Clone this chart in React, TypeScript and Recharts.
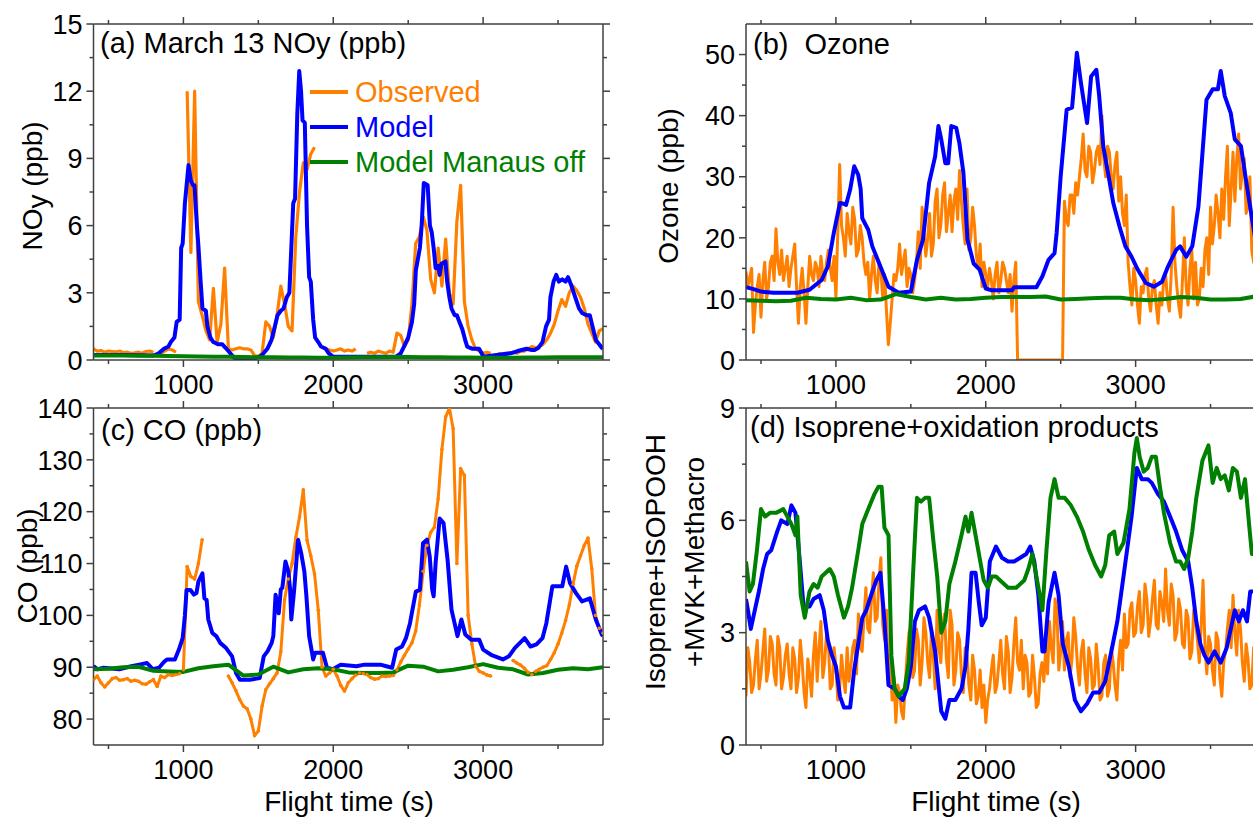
import React from 'react';
import { LineChart, Line, XAxis, YAxis, Legend } from 'recharts';

const ORANGE = '#ff8000';
const BLUE = '#0000ff';
const GREEN = '#008000';
const FRAME = '#404040';
const FONT = '"Liberation Sans", Arial, Helvetica, sans-serif';

// ---------- shared x axis ----------
const X_DOMAIN: [number, number] = [400, 3800];
const X_TICKS = [500, 1000, 1500, 2000, 2500, 3000, 3500];
const X_MAJOR = [1000, 2000, 3000];

// ---------- panel (a) NOy ----------
const NOY_DOMAIN: [number, number] = [0, 15];
const NOY_TICKS = [0, 1.5, 3, 4.5, 6, 7.5, 9, 10.5, 12, 13.5, 15];
const NOY_MAJOR = [0, 3, 6, 9, 12, 15];
// observed, every 25 s from 400 s
const NOY_OBS: (number | null)[] = [
  0.5, 0.4, 0.42, 0.35, 0.4, 0.38, 0.36, 0.4, // 400
  0.33, 0.35, 0.3, 0.32, 0.35, 0.3, 0.38, 0.4, // 600
  0.35, null, 0.3, 0.4, 0.5, 0.45, 0.35, null, // 800
  null, 12.0, 4.8, 12.0, 2.6, 2.0, 1.3, 0.9, // 1000
  3.2, 0.8, 1.6, 4.1, 0.5, 0.45, 0.5, 0.55, // 1200
  0.5, 0.5, 0.45, 0.2, 0.15, 0.3, 1.7, 1.5, // 1400
  1.0, 2.0, 3.3, 2.5, 1.5, 1.3, 5.5, 7.5, // 1600
  8.8, 8.5, 9.2, 9.5, null, 0.6, 0.5, 0.45, // 1800
  0.4, 0.45, 0.5, 0.4, 0.45, 0.4, 0.5, null, // 2000
  null, 0.3, 0.35, 0.3, 0.4, 0.35, 0.3, 0.4, // 2200
  0.35, 1.2, 1.1, 0.6, 0.9, 2.5, 5.2, 5.5, // 2400
  6.4, 5.8, 3.6, 3.0, 5.0, 3.3, 5.4, 3.0, // 2600
  2.5, 6.2, 7.8, 2.6, 1.5, 0.9, 0.5, 0.4, // 2800
  0.3, 0.35, 0.3, null, 0.3, 0.25, 0.3, 0.3, // 3000
  0.35, 0.3, 0.4, 0.4, 0.5, 0.6, 0.55, 0.6, // 3200
  0.7, 0.9, 1.2, 1.6, 2.2, 2.7, 2.4, 3.0, // 3400
  3.3, 3.1, 2.8, 2.3, 1.6, 1.2, 0.8, 1.3, // 3600
  1.4, // 3800
];
// model: [time, value]
const NOY_MODEL: number[][] = [
  [400, 0.22], [600, 0.22], [800, 0.2], [836, 0.3], [870, 0.5], [900, 0.6], [916, 0.8], [940, 1.0],
  [955, 1.7], [975, 1.8], [985, 5.0], [995, 5.2], [1010, 7.0], [1034, 8.7], [1050, 8.0], [1065, 7.8],
  [1074, 7.8], [1090, 6.0], [1100, 5.1], [1115, 3.5], [1127, 2.3], [1150, 2.2], [1160, 1.5], [1180, 1.0],
  [1200, 0.8], [1230, 0.7], [1260, 0.7], [1300, 0.4], [1338, 0.1], [1380, 0.05], [1470, 0.05], [1522, 0.2],
  [1560, 0.5], [1588, 0.9], [1610, 1.5], [1628, 2.0], [1650, 2.2], [1668, 2.3], [1690, 2.8], [1707, 3.0],
  [1720, 5.0], [1733, 7.0], [1745, 7.2], [1760, 11.0], [1773, 12.9], [1785, 12.0], [1795, 10.7], [1810, 10.6],
  [1825, 6.0], [1839, 3.7], [1850, 3.5], [1866, 1.8], [1879, 1.0], [1900, 0.8], [1918, 0.6], [1950, 0.5],
  [1970, 0.3], [1997, 0.15], [2420, 0.15], [2450, 0.3], [2472, 0.6], [2500, 1.0], [2525, 1.7], [2540, 2.5],
  [2551, 4.0], [2578, 5.0], [2590, 6.0], [2604, 7.9], [2630, 7.8], [2645, 6.0], [2657, 5.7], [2670, 5.0],
  [2683, 4.1], [2700, 4.2], [2710, 3.8], [2722, 4.3], [2749, 4.4], [2760, 3.5], [2775, 2.8], [2789, 2.3],
  [2810, 2.0], [2825, 2.0], [2842, 1.7], [2860, 1.4], [2880, 0.9], [2894, 0.6], [2930, 0.5], [2973, 0.5],
  [2990, 0.3], [3000, 0.15], [3184, 0.3], [3230, 0.4], [3290, 0.5], [3320, 0.45], [3343, 0.45], [3370, 0.55],
  [3396, 0.8], [3420, 1.5], [3440, 1.8], [3449, 2.8], [3470, 3.5], [3488, 3.8], [3505, 3.5], [3528, 3.6],
  [3550, 3.5], [3567, 3.7], [3590, 3.3], [3620, 2.7], [3640, 2.3], [3660, 2.1], [3690, 2.0], [3712, 2.0],
  [3730, 1.5], [3752, 0.9], [3792, 0.55], [3800, 0.5],
];
// Manaus off, every 100 s from 400 s
const NOY_OFF: number[] = [
  0.2, 0.2, 0.2, 0.19, 0.19, 0.18, 0.17, 0.16, 0.15, 0.14, 0.13, 0.12, 0.12, 0.11, 0.11, 0.1, 0.1, 0.11,
  0.12, 0.12, 0.13, 0.13, 0.12, 0.12, 0.11, 0.11, 0.1, 0.1, 0.1, 0.11, 0.11, 0.12, 0.12, 0.12, 0.12,
];

// ---------- panel (b) Ozone ----------
const O3_DOMAIN: [number, number] = [0, 55];
const O3_TICKS = [0, 5, 10, 15, 20, 25, 30, 35, 40, 45, 50];
const O3_MAJOR = [0, 10, 20, 30, 40, 50];
// observed at 400, 425, ... s
const O3_OBS: number[] = [
  14.5, 13.5, 4.5, 12, 7, 16, 12, 17, // 400
  21.5, 14, 13, 17, 15, 19, 6, 15, // 600
  6, 17, 13, 15, 17, 13, 18, 13, // 800
  10, 32, 20, 24, 19, 23, 18, 20, // 1000
  14, 10, 17, 11, 15, 14, 2.5, 10, // 1200
  13, 19, 16, 12, 14, 13, 21, 25, // 1400
  17, 24, 19, 28, 22, 29, 24, 21, // 1600
  28, 31, 22, 28, 20, 22, 15, 12, // 1800
  14, 15, 10, 16, 13, 15, 11, 8, // 2000
  16, 0, 0, 0, 0, 0, 0, 0, // 2200
  0, 0, 0, 0, 0, 26, 22, 27, // 2400
  29, 30, 37, 30, 34, 31, 35, 40, // 2600
  30, 34, 28, 34, 30, 22, 16, 9, // 2800
  13, 6, 11, 15, 8, 13, 6, 9, // 3000
  14, 8, 25, 12, 7, 20, 9, 18, // 3200
  16, 10, 12, 20, 25, 22, 24, 28, // 3400
  30, 22, 34, 33, 28, 33, 25, 18, // 3600
  20, // 3800
];
// observed at 412.5, 437.5, ... s
const O3_OBS_MID: number[] = [
  12, 15, 9, 14, 13, 10, 16, 13, // 412.5
  16, 18, 15, 12, 17, 12, 12, 11, // 612.5
  12, 14, 16, 12, 14, 16, 15, 17, // 812.5
  21, 22, 17, 21, 25, 17, 22, 16, // 1012.5
  16, 14, 13, 16, 10, 8, 6, 14, // 1212.5
  15, 14, 18, 15, 11, 16, 15, 21, // 1412.5
  20, 17, 26, 20, 27, 21, 27, 26, // 1612.5
  23, 26, 19, 18, 25, 17, 19, 16, // 1812.5
  12, 13, 14, 11, 16, 13, 14, 13, // 2012.5
  0, 0, 0, 0, 0, 0, 0, 0, // 2212.5
  0, 0, 0, 0, 0, 23, 27, 24, // 2412.5
  27, 33, 31, 35, 29, 34, 32, 33, // 2612.5
  35, 30, 32, 26, 24, 27, 12, 15, // 2812.5
  9, 12, 14, 10, 12, 9, 11, 13, // 3012.5
  10, 14, 16, 9, 13, 12, 15, 10, // 3212.5
  9, 15, 18, 14, 19, 27, 20, 23, // 3412.5
  35, 28, 26, 37, 31, 24, 30, 16, // 3612.5
];
const O3_MODEL: number[][] = [
  [400, 11.9], [450, 11.6], [500, 11.2], [584, 11.0], [743, 11.0], [824, 11.5], [905, 13.1], [946, 15.3],
  [986, 20.8], [1027, 25.7], [1050, 25.6], [1068, 25.4], [1095, 27.9], [1122, 31.7], [1149, 30.3], [1165, 28.0],
  [1176, 23.2], [1216, 21.3], [1243, 18.6], [1297, 15.3], [1351, 12.0], [1419, 11.0], [1500, 11.2], [1541, 16.4],
  [1581, 19.7], [1622, 29.0], [1662, 33.3], [1684, 38.3], [1703, 36.1], [1730, 32.2], [1749, 32.2], [1770, 38.3],
  [1803, 38.0], [1824, 35.5], [1851, 30.6], [1878, 19.7], [1919, 15.8], [1959, 14.8], [2000, 11.7], [2040, 11.4],
  [2175, 11.4], [2189, 11.9], [2338, 11.9], [2378, 13.7], [2419, 16.4], [2459, 17.5], [2473, 20.8], [2500, 30.1],
  [2540, 41.0], [2576, 41.3], [2608, 50.3], [2635, 45.4], [2676, 38.8], [2703, 46.4], [2738, 47.5], [2757, 43.2],
  [2784, 35.0], [2824, 29.5], [2851, 25.7], [2892, 21.9], [2932, 18.6], [2973, 16.9], [3014, 14.8], [3068, 12.6],
  [3122, 12.0], [3176, 12.8], [3216, 15.3], [3270, 18.0], [3297, 18.6], [3338, 16.9], [3378, 18.6], [3419, 25.1],
  [3473, 42.6], [3514, 44.3], [3549, 44.3], [3568, 47.3], [3595, 43.2], [3635, 40.4], [3662, 36.1], [3703, 35.0],
  [3743, 28.4], [3800, 19.5],
];
const O3_OFF: number[] = [
  9.8, 9.7, 9.6, 9.7, 10.2, 10.0, 9.9, 10.2, 9.8, 9.9,
  10.8, 10.3, 9.9, 10.2, 9.9, 10.0, 10.2, 10.3, 10.3, 10.3,
  10.4, 9.9, 10.0, 10.1, 10.2, 10.2, 9.9, 9.8, 10.0, 10.3,
  10.2, 9.9, 9.9, 10.0, 10.4,
];

// ---------- panel (c) CO ----------
const CO_DOMAIN: [number, number] = [75, 140];
const CO_TICKS = [80, 85, 90, 95, 100, 105, 110, 115, 120, 125, 130, 135, 140];
const CO_MAJOR = [80, 90, 100, 110, 120, 130, 140];
const CO_OBS: (number | null)[] = [
  87.6, 88.3, 87.0, 86.2, 87.0, 87.8, 88.0, 87.5, // 400
  87.6, 87.8, 87.3, 87.5, 87.3, 86.8, 86.7, 87.2, // 600
  87.6, 86.3, 88.3, 88.0, 88.6, 88.4, 88.6, 88.8, // 800
  89.5, 109.4, 107.5, 107.0, 110.0, 114.6, null, null, // 1000
  null, null, null, null, 88.3, 87.0, 85.5, 83.8, // 1200
  82.5, 82.0, 80.0, 76.8, 77.7, 82.5, 85.7, 86.8, // 1400
  87.8, 88.9, 93.0, 103.0, 107.0, 110.0, 115.0, 119.0, // 1600
  124.2, 114.5, 111.5, 108.0, 101.0, 90.0, 88.3, 88.9, // 1800
  89.6, 88.3, 86.5, 85.4, 87.0, 87.8, 88.5, 88.9, // 2000
  88.8, 88.6, 88.0, 87.7, 87.8, 88.3, 88.2, 88.3, // 2200
  88.4, 89.5, 91.0, 92.3, 93.5, 94.7, 97.0, 102.0, // 2400
  108.5, 113.5, 116.0, 117.0, 122.5, 132.0, 138.3, 140.0, // 2600
  136.0, 110.0, 128.3, 127.0, 100.0, 94.5, 90.2, 89.2, // 2800
  88.9, 88.5, 88.3, null, null, null, null, null, // 3000
  91.3, 90.8, 90.4, 89.8, 89.0, 88.6, 89.2, 89.6, // 3200
  90.0, 90.3, 91.5, 92.8, 94.5, 96.6, 99.0, 102.0, // 3400
  106.0, 109.5, 111.5, 113.5, 114.9, 109.0, 100.0, 97.5, // 3600
  96.6, // 3800
];
const CO_MODEL: number[][] = [
  [400, 90.2], [427, 89.6], [467, 89.9], [572, 89.6], [652, 90.2], [705, 90.5], [757, 90.8], [797, 89.6],
  [837, 89.9], [870, 91.0], [890, 91.5], [943, 91.5], [970, 93.4], [995, 95.6], [1010, 100.0], [1021, 104.9],
  [1047, 104.9], [1070, 104.0], [1087, 104.3], [1100, 106.5], [1127, 108.1], [1140, 103.3], [1155, 103.0], [1166, 99.2],
  [1193, 96.6], [1219, 96.0], [1245, 94.7], [1285, 93.7], [1325, 92.1], [1351, 88.9], [1377, 87.6], [1443, 87.6],
  [1509, 87.9], [1536, 92.1], [1562, 93.1], [1589, 94.7], [1600, 96.0], [1615, 104.0], [1636, 100.4], [1650, 105.0],
  [1660, 105.3], [1681, 110.4], [1700, 108.5], [1712, 105.0], [1720, 99.2], [1739, 104.9], [1765, 114.6], [1786, 112.0],
  [1807, 108.5], [1820, 104.0], [1839, 96.0], [1866, 91.5], [1880, 92.8], [1931, 92.8], [1958, 89.9], [1997, 89.6],
  [2050, 90.5], [2155, 90.2], [2208, 90.5], [2314, 90.5], [2354, 90.2], [2393, 89.9], [2420, 93.4], [2459, 94.0],
  [2485, 95.6], [2512, 98.5], [2551, 104.6], [2578, 104.9], [2599, 113.9], [2625, 114.6], [2644, 111.3], [2660, 105.0],
  [2670, 103.7], [2683, 110.1], [2710, 118.7], [2736, 117.8], [2763, 110.7], [2789, 101.1], [2829, 96.0], [2855, 99.2],
  [2881, 96.3], [2921, 95.3], [2974, 95.3], [3000, 93.4], [3053, 92.4], [3132, 91.5], [3172, 92.1], [3211, 93.7],
  [3277, 95.6], [3316, 94.0], [3356, 94.4], [3396, 95.6], [3422, 98.5], [3462, 105.6], [3528, 105.6], [3554, 109.4],
  [3580, 106.2], [3620, 104.3], [3660, 102.7], [3712, 103.3], [3752, 99.2], [3792, 96.3], [3800, 96.0],
];
const CO_OFF: number[] = [
  89.6, 89.7, 90.0, 90.1, 89.3, 89.2, 89.1, 89.8, 90.2, 90.5,
  88.4, 88.6, 90.1, 89.0, 89.6, 89.8, 89.6, 89.0, 88.9, 88.9,
  89.0, 90.3, 90.1, 89.2, 89.5, 90.0, 90.6, 89.9, 89.6, 88.6,
  88.9, 89.5, 89.8, 89.6, 90.0,
];

// ---------- panel (d) Isoprene + oxidation products ----------
const ISO_DOMAIN: [number, number] = [0, 9];
const ISO_TICKS = [0, 1.5, 3, 4.5, 6, 7.5, 9];
const ISO_MAJOR = [0, 3, 6, 9];
// observed at 400, 425, ... s
const ISO_OBS: number[] = [
  1.3, 2.2, 1.6, 2.8, 1.9, 3.1, 2.0, 2.7, // 400
  1.6, 2.6, 1.8, 2.7, 1.5, 2.3, 1.8, 2.2, // 600
  1.0, 1.9, 2.4, 1.7, 3.3, 2.2, 2.7, 1.6, // 800
  2.1, 1.5, 1.8, 2.6, 2.1, 2.8, 3.5, 2.5, // 1000
  4.2, 3.0, 4.6, 3.4, 5.0, 2.8, 1.8, 1.2, // 1200
  0.6, 1.4, 0.7, 2.4, 3.2, 2.0, 2.8, 2.2, // 1400
  3.0, 1.8, 2.4, 3.6, 2.2, 3.5, 1.8, 3.2, // 1600
  2.0, 2.8, 1.4, 2.4, 1.2, 2.0, 1.3, 1.0, // 1800
  0.6, 1.5, 2.4, 1.6, 2.8, 1.5, 2.5, 1.8, // 2000
  3.4, 2.0, 1.5, 2.2, 1.4, 1.8, 1.1, 2.2, // 2200
  2.6, 3.3, 2.2, 3.6, 2.5, 2.0, 3.0, 2.3, // 2400
  2.9, 1.6, 2.8, 1.4, 2.3, 1.6, 2.1, 1.3, // 2600
  2.4, 1.5, 2.2, 1.2, 2.8, 3.5, 2.7, 3.8, // 2800
  3.0, 4.1, 3.2, 3.9, 3.3, 4.4, 3.1, 3.8, // 3000
  4.7, 3.2, 4.0, 3.0, 3.6, 2.6, 3.4, 2.5, // 3200
  3.3, 2.2, 4.4, 1.9, 2.7, 1.6, 2.8, 1.3, // 3400
  2.5, 3.6, 4.0, 2.4, 3.1, 1.7, 2.3, 1.6, // 3600
  2.0, // 3800
];
// observed at 412.5, 437.5, ... s
const ISO_OBS_MID: number[] = [
  2.6, 1.4, 2.3, 1.5, 2.5, 1.7, 2.9, 1.9, // 412.5
  2.9, 1.5, 2.4, 1.9, 2.6, 1.4, 2.8, 1.4, // 612.5
  2.3, 1.3, 3.0, 2.6, 1.8, 3.0, 1.5, 2.6, // 812.5
  1.2, 2.4, 1.4, 1.7, 2.6, 1.9, 2.6, 3.4, // 1012.5
  3.1, 3.9, 3.3, 4.4, 3.2, 3.6, 2.4, 1.8, // 1212.5
  1.6, 0.9, 1.6, 3.0, 1.8, 3.1, 1.6, 3.4, // 1412.5
  2.2, 3.1, 1.5, 2.6, 3.2, 2.3, 3.6, 1.6, // 1612.5
  3.0, 1.9, 2.6, 1.6, 2.4, 1.1, 2.0, 1.6, // 1812.5
  1.2, 2.0, 1.4, 2.2, 1.9, 2.9, 1.4, 2.7, // 2012.5
  2.2, 2.8, 2.4, 1.3, 2.4, 1.0, 1.9, 1.7, // 2212.5
  1.9, 2.6, 3.9, 2.0, 3.3, 2.8, 1.8, 3.4, // 2412.5
  2.1, 2.5, 1.9, 2.6, 1.5, 2.7, 1.2, 2.2, // 2612.5
  1.3, 2.6, 1.6, 2.3, 2.0, 2.6, 3.6, 2.9, // 2812.5
  3.7, 3.0, 4.3, 2.9, 3.9, 3.2, 4.1, 3.3, // 3012.5
  3.6, 4.3, 2.8, 3.9, 2.7, 3.6, 2.3, 3.6, // 3212.5
  2.8, 3.2, 2.7, 2.9, 2.0, 3.0, 1.8, 2.2, // 3412.5
  3.1, 2.6, 3.0, 3.6, 2.2, 2.7, 1.5, 2.6, // 3612.5
];
const ISO_MODEL: number[][] = [
  [400, 3.9], [413, 3.6], [432, 3.1], [459, 3.6], [486, 4.1], [514, 4.7], [541, 5.1], [568, 5.2],
  [608, 5.7], [635, 6.0], [676, 5.9], [703, 6.4], [730, 6.2], [757, 5.0], [784, 3.7], [824, 3.7],
  [851, 3.9], [892, 4.0], [919, 3.6], [946, 2.8], [973, 2.4], [1000, 2.1], [1027, 1.3], [1054, 1.0],
  [1095, 1.0], [1122, 2.0], [1149, 2.7], [1176, 3.4], [1203, 3.6], [1243, 4.1], [1270, 4.4], [1297, 4.6],
  [1324, 3.3], [1351, 1.6], [1392, 1.5], [1419, 1.3], [1446, 1.2], [1473, 1.5], [1500, 2.1], [1527, 3.3],
  [1554, 3.6], [1595, 3.7], [1622, 3.4], [1662, 2.5], [1703, 0.9], [1730, 0.7], [1757, 1.2], [1797, 1.2],
  [1838, 1.5], [1865, 2.1], [1884, 3.1], [1905, 4.6], [1932, 4.6], [1954, 3.8], [1973, 3.2], [2000, 3.4],
  [2027, 4.9], [2068, 5.3], [2108, 5.0], [2149, 4.9], [2189, 4.9], [2230, 5.0], [2270, 5.1], [2297, 5.3],
  [2324, 4.9], [2351, 4.0], [2378, 2.5], [2392, 2.5], [2419, 3.8], [2459, 4.6], [2486, 4.0], [2514, 2.7],
  [2554, 2.1], [2595, 1.2], [2635, 0.9], [2676, 1.1], [2716, 1.4], [2757, 1.4], [2797, 1.7], [2838, 2.5],
  [2878, 3.3], [2919, 4.5], [2946, 5.3], [2973, 6.1], [3008, 7.4], [3041, 7.1], [3081, 7.1], [3108, 7.0],
  [3149, 6.7], [3189, 6.5], [3230, 6.1], [3270, 5.7], [3311, 5.2], [3351, 4.9], [3378, 4.2], [3405, 3.3],
  [3432, 2.7], [3459, 2.4], [3486, 2.2], [3527, 2.5], [3568, 2.2], [3608, 2.6], [3635, 3.1], [3662, 3.6],
  [3689, 3.3], [3716, 3.6], [3743, 3.3], [3765, 4.1], [3800, 4.1],
];
const ISO_OFF: number[][] = [
  [400, 4.9], [424, 4.1], [446, 4.3], [473, 5.2], [500, 6.3], [527, 6.1], [560, 6.2], [600, 6.2],
  [649, 6.3], [676, 6.1], [703, 5.9], [730, 5.6], [743, 6.1], [765, 4.0], [792, 3.4], [824, 4.1],
  [851, 4.3], [878, 4.2], [905, 4.5], [932, 4.6], [959, 4.7], [986, 4.5], [1014, 4.0], [1054, 3.4],
  [1081, 3.7], [1108, 4.2], [1149, 5.2], [1176, 5.9], [1216, 6.3], [1257, 6.7], [1284, 6.9], [1305, 6.9],
  [1324, 5.8], [1351, 5.6], [1370, 2.4], [1392, 1.5], [1419, 1.3], [1459, 1.5], [1486, 2.2], [1514, 4.5],
  [1541, 6.6], [1568, 6.5], [1595, 6.6], [1622, 6.6], [1649, 5.5], [1676, 4.5], [1703, 3.0], [1730, 3.3],
  [1757, 4.3], [1797, 4.9], [1838, 5.6], [1865, 6.1], [1884, 5.7], [1905, 6.2], [1932, 5.6], [1959, 5.0],
  [1986, 4.4], [2014, 4.2], [2040, 4.5], [2068, 4.5], [2095, 4.4], [2149, 4.2], [2203, 4.2], [2257, 4.4],
  [2284, 4.7], [2311, 5.1], [2338, 4.5], [2365, 3.9], [2378, 3.6], [2405, 5.2], [2432, 6.6], [2459, 7.1],
  [2486, 6.6], [2527, 6.6], [2568, 6.4], [2608, 6.1], [2649, 5.7], [2689, 5.2], [2730, 4.8], [2770, 4.5],
  [2797, 4.8], [2824, 5.6], [2857, 5.7], [2878, 5.1], [2919, 5.4], [2959, 6.3], [2992, 7.8], [3008, 8.2],
  [3027, 7.7], [3054, 7.3], [3081, 7.4], [3108, 7.7], [3135, 7.7], [3162, 6.9], [3189, 6.2], [3230, 5.4],
  [3270, 4.9], [3297, 4.9], [3324, 4.7], [3351, 5.0], [3378, 5.7], [3405, 6.6], [3446, 7.6], [3486, 8.0],
  [3514, 7.0], [3541, 7.4], [3568, 7.1], [3595, 7.2], [3622, 6.8], [3649, 7.4], [3676, 7.3], [3703, 6.6],
  [3730, 7.1], [3757, 5.9], [3776, 5.1], [3800, 5.1],
];

const LEGEND_ITEMS = [
  { label: 'Observed', color: ORANGE },
  { label: 'Model', color: BLUE },
  { label: 'Model Manaus off', color: GREEN },
];

// ---------- helpers ----------
type Pt = { t: number; v: number | null };
const onGrid = (start: number, step: number, vals: (number | null)[]): Pt[] =>
  vals.map((v, i) => ({ t: start + i * step, v }));
const fromPairs = (p: number[][]): Pt[] => p.map(([t, v]) => ({ t, v }));
// merge a 25-s series with its half-step companion (12.5 s later)
const interleave = (start: number, step: number, main: number[], mid: number[]): Pt[] => {
  const out: Pt[] = [];
  main.forEach((v, i) => {
    out.push({ t: start + i * step, v });
    if (i < mid.length) out.push({ t: start + i * step + step / 2, v: mid[i] });
  });
  return out;
};

const TICK_FONT = 27;
const LABEL_FONT = 28;
const TITLE_FONT = 29;

type Orient = 'left' | 'right' | 'top' | 'bottom';
function makeTick(orient: Orient, majors: number[], label: boolean) {
  return (props: any) => {
    const { x, y, payload } = props;
    const v = payload.value as number;
    const major = majors.some((m) => Math.abs(m - v) < 1e-9);
    const len = major ? 7 : 4;
    let ln: React.ReactNode = null;
    let tx: React.ReactNode = null;
    const common = { stroke: FRAME, strokeWidth: 1.5 };
    if (orient === 'bottom') {
      ln = <line x1={x} x2={x} y1={y} y2={y + len} {...common} />;
      if (label && major)
        tx = (
          <text x={x} y={y + 15} dy="0.72em" textAnchor="middle" fontFamily={FONT} fontSize={TICK_FONT} fill="#000">
            {v}
          </text>
        );
    } else if (orient === 'top') {
      ln = <line x1={x} x2={x} y1={y} y2={y - len} {...common} />;
    } else if (orient === 'left') {
      ln = <line x1={x} x2={x - len} y1={y} y2={y} {...common} />;
      if (label && major)
        tx = (
          <text x={x - 11} y={y} dy="0.36em" textAnchor="end" fontFamily={FONT} fontSize={TICK_FONT} fill="#000">
            {v}
          </text>
        );
    } else {
      ln = <line x1={x} x2={x + len} y1={y} y2={y} {...common} />;
    }
    return (
      <g>
        {ln}
        {tx}
      </g>
    );
  };
}

const axisLine = { stroke: FRAME, strokeWidth: 1.5 };

type Series = { data: Pt[]; color: string; width: number; dot?: boolean };

// plot rectangle is given directly; axes take 1px each so margins are reduced by 1
function Panel(props: {
  left: number;
  top: number;
  width: number;
  height: number;
  plot: { x0: number; x1: number; y0: number; y1: number };
  yDomain: [number, number];
  yTicks: number[];
  yMajor: number[];
  series: Series[];
  legend?: boolean;
}) {
  const { left, top, width, height, plot, yDomain, yTicks, yMajor, series, legend } = props;
  const margin = {
    left: plot.x0 - 1,
    right: width - plot.x1 - 1,
    top: plot.y0 - 1,
    bottom: height - plot.y1 - 1,
  };
  return (
    <div style={{ position: 'absolute', left, top, width, height }}>
      <LineChart width={width} height={height} margin={margin}>
        <XAxis
          xAxisId="b"
          dataKey="t"
          type="number"
          orientation="bottom"
          domain={X_DOMAIN}
          allowDataOverflow
          ticks={X_TICKS}
          interval={0}
          height={1}
          tickLine={false}
          tickSize={0}
          tickMargin={0}
          axisLine={axisLine}
          tick={makeTick('bottom', X_MAJOR, true)}
        />
        <XAxis
          xAxisId="t"
          dataKey="t"
          type="number"
          orientation="top"
          domain={X_DOMAIN}
          allowDataOverflow
          ticks={X_TICKS}
          interval={0}
          height={1}
          tickLine={false}
          tickSize={0}
          tickMargin={0}
          axisLine={axisLine}
          tick={makeTick('top', X_MAJOR, false)}
        />
        <YAxis
          yAxisId="l"
          type="number"
          orientation="left"
          domain={yDomain}
          allowDataOverflow
          ticks={yTicks}
          interval={0}
          width={1}
          tickLine={false}
          tickSize={0}
          tickMargin={0}
          axisLine={axisLine}
          tick={makeTick('left', yMajor, true)}
        />
        <YAxis
          yAxisId="r"
          type="number"
          orientation="right"
          domain={yDomain}
          allowDataOverflow
          ticks={yTicks}
          interval={0}
          width={1}
          tickLine={false}
          tickSize={0}
          tickMargin={0}
          axisLine={axisLine}
          tick={makeTick('right', yMajor, false)}
        />
        {series.map((s, i) => (
          <Line
            key={i}
            xAxisId="b"
            yAxisId="l"
            data={s.data}
            dataKey="v"
            type="linear"
            stroke={s.color}
            strokeWidth={s.width}
            strokeLinejoin="round"
            dot={s.dot ? { r: 1.8, fill: s.color, stroke: 'none' } : false}
            activeDot={false}
            connectNulls={false}
            isAnimationActive={false}
          />
        ))}
        {legend && (
          <Legend
            layout="vertical"
            align="center"
            verticalAlign="middle"
            wrapperStyle={{ position: 'absolute', left: 300, top: 68, width: 320, height: 110 }}
            content={() => (
              <svg width={320} height={110}>
                {LEGEND_ITEMS.map((it, i) => (
                  <g key={it.label}>
                    <line x1={10} x2={48} y1={24 + i * 35} y2={24 + i * 35} stroke={it.color} strokeWidth={4} />
                    <text x={55} y={24 + i * 35} dy="0.36em" fontFamily={FONT} fontSize={TITLE_FONT} fill={it.color}>
                      {it.label}
                    </text>
                  </g>
                ))}
              </svg>
            )}
          />
        )}
      </LineChart>
    </div>
  );
}

function Overlay() {
  const t = { fontFamily: FONT, fontSize: LABEL_FONT, fill: '#000' } as const;
  const h = { fontFamily: FONT, fontSize: TITLE_FONT, fill: '#000' } as const;
  return (
    <svg
      width={1253}
      height={819}
      style={{ position: 'absolute', left: 0, top: 0, pointerEvents: 'none', overflow: 'visible' }}
    >
      <text x={100} y={53} {...h}>(a) March 13 NOy (ppb)</text>
      <text x={753} y={54} {...h}>{'(b)\u00a0 Ozone'}</text>
      <text x={101} y={440} {...h}>(c) CO (ppb)</text>
      <text x={750} y={437} {...h}>(d) Isoprene+oxidation products</text>

      <text x={42} y={186} textAnchor="middle" transform="rotate(-90 42 186)" {...t}>
        NO<tspan dy="0.18em">y</tspan>
        <tspan dy="-0.18em"> (ppb)</tspan>
      </text>
      <text x={678} y={186} textAnchor="middle" transform="rotate(-90 678 186)" {...t}>
        Ozone (ppb)
      </text>
      <text x={37} y={566} textAnchor="middle" transform="rotate(-90 37 566)" {...t}>
        CO (ppb)
      </text>
      <text x={665} y={562} textAnchor="middle" transform="rotate(-90 665 562)" {...t}>
        Isoprene+ISOPOOH
      </text>
      <text x={704} y={562} textAnchor="middle" transform="rotate(-90 704 562)" {...t}>
        +MVK+Methacro
      </text>

      <text x={349} y={811} textAnchor="middle" {...t}>Flight time (s)</text>
      <text x={996} y={811} textAnchor="middle" {...t}>Flight time (s)</text>
    </svg>
  );
}

export default function App() {
  const LW = 4;
  const OW = 3.2;
  const panelA: Series[] = [
    { data: onGrid(400, 25, NOY_OBS), color: ORANGE, width: OW },
    { data: fromPairs(NOY_MODEL), color: BLUE, width: LW },
    { data: onGrid(400, 100, NOY_OFF), color: GREEN, width: LW },
  ];
  const panelB: Series[] = [
    { data: interleave(400, 25, O3_OBS, O3_OBS_MID), color: ORANGE, width: 3 },
    { data: fromPairs(O3_MODEL), color: BLUE, width: LW },
    { data: onGrid(400, 100, O3_OFF), color: GREEN, width: LW },
  ];
  const panelC: Series[] = [
    { data: onGrid(400, 25, CO_OBS), color: ORANGE, width: 3, dot: true },
    { data: fromPairs(CO_MODEL), color: BLUE, width: LW },
    { data: onGrid(400, 100, CO_OFF), color: GREEN, width: LW },
  ];
  const panelD: Series[] = [
    { data: interleave(400, 25, ISO_OBS, ISO_OBS_MID), color: ORANGE, width: 3 },
    { data: fromPairs(ISO_MODEL), color: BLUE, width: LW },
    { data: fromPairs(ISO_OFF), color: GREEN, width: LW },
  ];
  const plotAC = { x0: 93.5, x1: 603 };
  const plotBD = { x0: 746, x1: 1255.5 };
  return (
    <div
      style={{
        position: 'absolute',
        left: 0,
        top: 0,
        width: 1253,
        height: 819,
        overflow: 'hidden',
        background: '#fff',
      }}
    >
      <Panel
        left={0}
        top={0}
        width={640}
        height={400}
        plot={{ ...plotAC, y0: 24, y1: 360 }}
        yDomain={NOY_DOMAIN}
        yTicks={NOY_TICKS}
        yMajor={NOY_MAJOR}
        series={panelA}
        legend
      />
      <Panel
        left={640}
        top={0}
        width={640}
        height={400}
        plot={{ x0: plotBD.x0 - 640, x1: plotBD.x1 - 640, y0: 24, y1: 360 }}
        yDomain={O3_DOMAIN}
        yTicks={O3_TICKS}
        yMajor={O3_MAJOR}
        series={panelB}
      />
      <Panel
        left={0}
        top={384}
        width={640}
        height={400}
        plot={{ ...plotAC, y0: 24, y1: 361 }}
        yDomain={CO_DOMAIN}
        yTicks={CO_TICKS}
        yMajor={CO_MAJOR}
        series={panelC}
      />
      <Panel
        left={640}
        top={384}
        width={640}
        height={400}
        plot={{ x0: plotBD.x0 - 640, x1: plotBD.x1 - 640, y0: 24, y1: 361 }}
        yDomain={ISO_DOMAIN}
        yTicks={ISO_TICKS}
        yMajor={ISO_MAJOR}
        series={panelD}
      />
      <Overlay />
    </div>
  );
}
